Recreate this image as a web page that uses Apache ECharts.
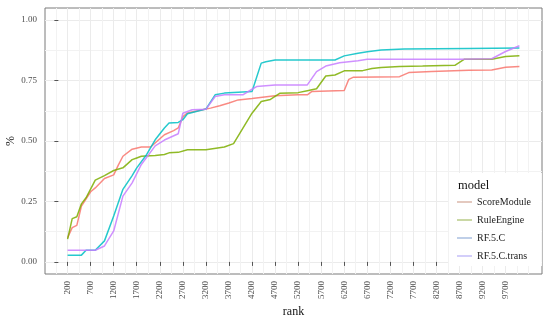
<!DOCTYPE html>
<html>
<head>
<meta charset="utf-8">
<script src="https://cdn.jsdelivr.net/npm/echarts@6/dist/echarts.min.js"></script>
<style>html,body{margin:0;padding:0;background:#fff}#c{width:550px;height:324px}</style>
</head>
<body>
<div id="c"></div>
<script>
// ---- data ----
var seriesNames = ['ScoreModule', 'RuleEngine', 'RF.5.C', 'RF.5.C.trans'];

var scoreRank = [200,300,400,500,700,800,1000,1200,1300,1400,1600,1800,2000,2300,2500,2600,2700,2800,3200,3300,3500,3700,3900,4200,4700,5200,5400,5500,6200,6300,6400,7400,7600,8100,8900,9400,9700,10000];
var scoreVal  = [0.10,0.142,0.151,0.231,0.29,0.306,0.345,0.36,0.40,0.437,0.466,0.475,0.475,0.526,0.543,0.554,0.60,0.616,0.632,0.636,0.646,0.657,0.67,0.676,0.687,0.691,0.691,0.705,0.709,0.755,0.764,0.766,0.783,0.787,0.793,0.794,0.805,0.808];

var ruleRank = [200,300,400,500,600,800,1000,1200,1400,1600,1700,1800,2100,2300,2400,2600,2800,3200,3600,3800,4200,4400,4600,4800,5200,5400,5600,5800,6000,6200,6600,6800,7000,7400,7900,8600,8800,9400,9700,10000];
var ruleVal  = [0.094,0.179,0.187,0.24,0.265,0.338,0.357,0.378,0.389,0.423,0.43,0.437,0.44,0.444,0.451,0.453,0.464,0.464,0.475,0.489,0.615,0.663,0.672,0.697,0.70,0.708,0.716,0.769,0.773,0.79,0.791,0.80,0.804,0.808,0.81,0.813,0.838,0.838,0.849,0.853];

var rfRank = [200,500,600,800,1000,1200,1400,1600,1700,1900,2100,2300,2400,2600,2700,2800,3200,3400,3600,3900,4200,4400,4500,4700,6000,6200,6500,6700,7000,7500,8900,10000];
var rfVal  = [0.028,0.028,0.048,0.048,0.087,0.19,0.30,0.357,0.389,0.44,0.505,0.554,0.574,0.577,0.588,0.613,0.632,0.691,0.698,0.702,0.705,0.822,0.828,0.835,0.835,0.852,0.863,0.869,0.876,0.88,0.883,0.885];

var rftRank = [200,800,1000,1200,1400,1600,1800,2100,2300,2600,2700,2800,2900,3200,3400,3600,4000,4200,4300,4700,5400,5600,5800,6100,6500,6700,8700,9400,9700,10000];
var rftVal  = [0.048,0.048,0.066,0.128,0.272,0.327,0.403,0.48,0.504,0.53,0.615,0.622,0.629,0.631,0.684,0.691,0.691,0.714,0.725,0.732,0.732,0.787,0.81,0.824,0.832,0.838,0.838,0.84,0.87,0.894];

var xMajorTicks = [200,700,1200,1700,2200,2700,3200,3700,4200,4700,5200,5700,6200,6700,7200,7700,8200,8700,9200,9700];
var xMinorTicks = [-50,450,950,1450,1950,2450,2950,3450,3950,4450,4950,5450,5950,6450,6950,7450,7950,8450,8950,9450,9950,10200];
var yMajorTicks = [0,0.25,0.5,0.75,1.0];
var yMinorTicks = [0.125,0.375,0.625,0.875];

var lineColors   = ['#F8766D', '#7CAE00', '#00BFC4', '#C77CFF'];
var legendColors = ['#c8927f', '#95b04a', '#7f9fd0', '#a79cf5'];

function pairs(xs, ys) { return xs.map(function (x, i) { return [x, ys[i]]; }); }
var seriesData = [pairs(scoreRank, scoreVal), pairs(ruleRank, ruleVal), pairs(rfRank, rfVal), pairs(rftRank, rftVal)];

var FONT = 'Liberation Serif';
var chart = echarts.init(document.getElementById('c'), null, { renderer: 'canvas' });

var axisCommonHidden = {
  axisLine: { show: false }, axisTick: { show: false }, axisLabel: { show: false }
};

chart.setOption({
  animation: false,
  backgroundColor: '#ffffff',
  textStyle: { fontFamily: FONT },
  grid: { left: 45, right: 8, top: 8, bottom: 50, show: true, borderColor: '#7a7a7a', borderWidth: 1,
    backgroundColor: 'transparent', containLabel: false, outerBoundsMode: 'none' },
  title: {
    text: 'model', left: 453, top: 174,
    textStyle: { fontFamily: FONT, fontSize: 12.5, fontWeight: 'normal', color: '#111' }
  },
  legend: {
    orient: 'vertical', left: 449, top: 173,
    padding: [23, 11, 4, 8],
    backgroundColor: '#ffffff',
    icon: 'path://M0,0 L15,0 L15,1 L0,1 Z',
    itemWidth: 15, itemHeight: 12, itemGap: 6,
    textStyle: { fontFamily: FONT, fontSize: 10, color: '#222', lineHeight: 12 },
    data: seriesNames.map(function (n, i) {
      return { name: n, itemStyle: { color: legendColors[i] } };
    })
  },
  xAxis: [
    {
      type: 'value', min: -290, max: 10490,
      name: 'rank', nameLocation: 'middle', nameGap: 32, nameMoveOverlap: false,
      nameTextStyle: { fontFamily: FONT, fontSize: 12, color: '#111' },
      axisLine: { show: false },
      axisTick: { show: true, length: 4, inside: false, lineStyle: { color: '#555' }, customValues: xMajorTicks },
      axisLabel: { show: true, rotate: 90, margin: 7, fontFamily: FONT, fontSize: 9, color: '#4D4D4D', customValues: xMajorTicks,
        formatter: function (v) { return String(v); } },
      splitLine: { show: true, lineStyle: { color: '#EBEBEB', width: 1 } }
    },
    Object.assign({
      type: 'value', min: -290, max: 10490, position: 'bottom',
      splitLine: { show: true, lineStyle: { color: '#F2F2F2', width: 1 } }
    }, axisCommonHidden, { axisTick: { show: false, customValues: xMinorTicks } })
  ],
  yAxis: [
    {
      type: 'value', min: -0.05, max: 1.05,
      name: '%', nameLocation: 'middle', nameGap: 28, nameMoveOverlap: false,
      nameTextStyle: { fontFamily: FONT, fontSize: 12, color: '#111' },
      axisLine: { show: false },
      axisTick: { show: true, length: 4, lineStyle: { color: '#555' }, customValues: yMajorTicks },
      axisLabel: { show: true, margin: 8, fontFamily: FONT, fontSize: 9, color: '#4D4D4D', customValues: yMajorTicks,
        formatter: function (v) { return v.toFixed(2); } },
      splitLine: { show: true, lineStyle: { color: '#EBEBEB', width: 1 } }
    },
    Object.assign({
      type: 'value', min: -0.05, max: 1.05, position: 'left',
      splitLine: { show: true, lineStyle: { color: '#F2F2F2', width: 1 } }
    }, axisCommonHidden, { axisTick: { show: false, customValues: yMinorTicks } })
  ],
  series: seriesNames.map(function (n, i) {
    return {
      name: n, type: 'line', xAxisIndex: 0, yAxisIndex: 0,
      data: seriesData[i],
      symbol: 'none', showSymbol: false,
      lineStyle: { color: lineColors[i], width: 1.5, opacity: 0.85 },
      itemStyle: { color: lineColors[i] },
      emphasis: { disabled: true }
    };
  })
});
</script>
</body>
</html>
